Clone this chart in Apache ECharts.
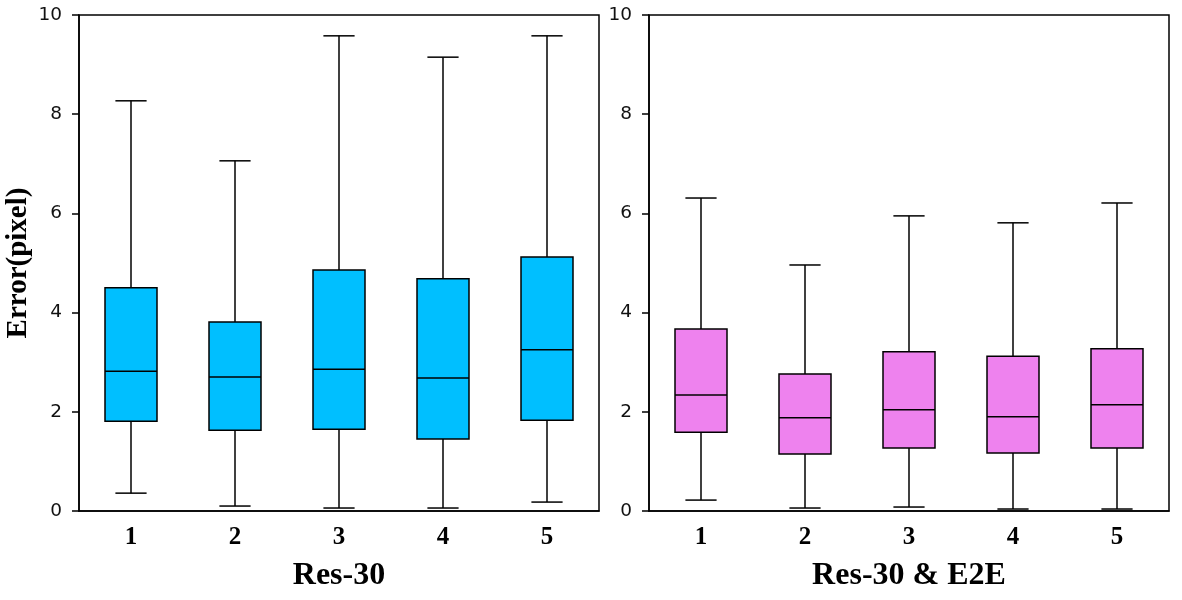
<!DOCTYPE html>
<html>
<head>
<meta charset="utf-8">
<script src="https://cdn.jsdelivr.net/npm/echarts@6/dist/echarts.min.js"></script>
<style>
  html, body { margin: 0; padding: 0; background: #fff; }
  #chart { width: 1182px; height: 600px; }
</style>
</head>
<body>
<div id="chart"></div>
<script>
// categories and tick labels
const categories = ['1', '2', '3', '4', '5']
const yTicks = [0, 2, 4, 6, 8, 10]

// box stats per category: [min, Q1, median, Q3, max]
const res30 = [
  [0.36, 1.81, 2.82, 4.50, 8.27],
  [0.10, 1.63, 2.70, 3.81, 7.06],
  [0.06, 1.65, 2.86, 4.86, 9.58],
  [0.06, 1.45, 2.68, 4.68, 9.15],
  [0.18, 1.83, 3.25, 5.12, 9.58],
]
const res30E2E = [
  [0.22, 1.59, 2.34, 3.67, 6.31],
  [0.06, 1.15, 1.88, 2.76, 4.96],
  [0.08, 1.27, 2.04, 3.21, 5.95],
  [0.04, 1.17, 1.90, 3.12, 5.81],
  [0.04, 1.27, 2.14, 3.27, 6.21],
]

const chart = echarts.init(document.getElementById('chart'))

const LINE = { stroke: '#000', lineWidth: 1.5 }

function renderBox(fill) {
  return (params, api) => {
    const i = api.value(0)
    const [lo, q1, med, q3, hi] = [1, 2, 3, 4, 5].map(k => api.value(k))
    const band = api.size([1, 0])[0]
    const bw = band * 0.5, cw = band * 0.3
    const pLo = api.coord([i, lo]), pQ1 = api.coord([i, q1]), pMed = api.coord([i, med])
    const pQ3 = api.coord([i, q3]), pHi = api.coord([i, hi])
    const x = pLo[0]
    return {
      type: 'group',
      children: [
        { type: 'line', shape: { x1: x, y1: pHi[1], x2: x, y2: pQ3[1] }, style: LINE },
        { type: 'line', shape: { x1: x, y1: pQ1[1], x2: x, y2: pLo[1] }, style: LINE },
        { type: 'line', shape: { x1: x - cw / 2, y1: pHi[1], x2: x + cw / 2, y2: pHi[1] }, style: LINE },
        { type: 'line', shape: { x1: x - cw / 2, y1: pLo[1], x2: x + cw / 2, y2: pLo[1] }, style: LINE },
        { type: 'rect', shape: { x: x - bw / 2, y: pQ3[1], width: bw, height: pQ1[1] - pQ3[1] },
          style: { fill, stroke: '#000', lineWidth: 1.5 } },
        { type: 'line', shape: { x1: x - bw / 2, y1: pMed[1], x2: x + bw / 2, y2: pMed[1] }, style: LINE },
      ]
    }
  }
}

const yAxisBase = {
  type: 'value', min: 0, max: 10, interval: 2,
  axisLine: { show: true, lineStyle: { color: '#000', width: 1.5 } },
  axisTick: { show: true, length: 7, lineStyle: { color: '#000', width: 1.5 } },
  axisLabel: { fontFamily: 'DejaVu Sans', fontSize: 18.5, color: '#111', margin: 17,
    formatter: v => yTicks.includes(v) ? String(v) : '' },
  splitLine: { show: false },
}

const xAxisBase = {
  type: 'category', data: categories,
  axisLine: { show: true, lineStyle: { color: '#000', width: 1.5 } },
  axisTick: { show: false },
  axisLabel: { fontFamily: 'Liberation Serif', fontWeight: 'bold', fontSize: 25, color: '#000', margin: 14 },
  nameLocation: 'middle', nameGap: 49,
  nameTextStyle: { fontFamily: 'Liberation Serif', fontWeight: 'bold', fontSize: 32, color: '#000' },
}

chart.setOption({
  animation: false,
  backgroundColor: '#fff',
  grid: [
    { left: 79, top: 15, width: 520, height: 496, show: true, borderColor: '#000', borderWidth: 1.5, backgroundColor: 'transparent' },
    { left: 649, top: 15, width: 520, height: 496, show: true, borderColor: '#000', borderWidth: 1.5, backgroundColor: 'transparent' },
  ],
  xAxis: [
    { ...xAxisBase, gridIndex: 0, name: 'Res-30' },
    { ...xAxisBase, gridIndex: 1, name: 'Res-30 & E2E' },
  ],
  yAxis: [
    { ...yAxisBase, gridIndex: 0, name: 'Error(pixel)', nameLocation: 'middle', nameGap: 46,
      nameTextStyle: { fontFamily: 'Liberation Serif', fontWeight: 'bold', fontSize: 29, color: '#000' } },
    { ...yAxisBase, gridIndex: 1 },
  ],
  series: [
    { type: 'custom', xAxisIndex: 0, yAxisIndex: 0, renderItem: renderBox('#00BFFF'),
      encode: { x: 0, y: [1, 2, 3, 4, 5] },
      data: res30.map((d, i) => [i, ...d]) },
    { type: 'custom', xAxisIndex: 1, yAxisIndex: 1, renderItem: renderBox('#EE82EE'),
      encode: { x: 0, y: [1, 2, 3, 4, 5] },
      data: res30E2E.map((d, i) => [i, ...d]) },
  ],
})
</script>
</body>
</html>
